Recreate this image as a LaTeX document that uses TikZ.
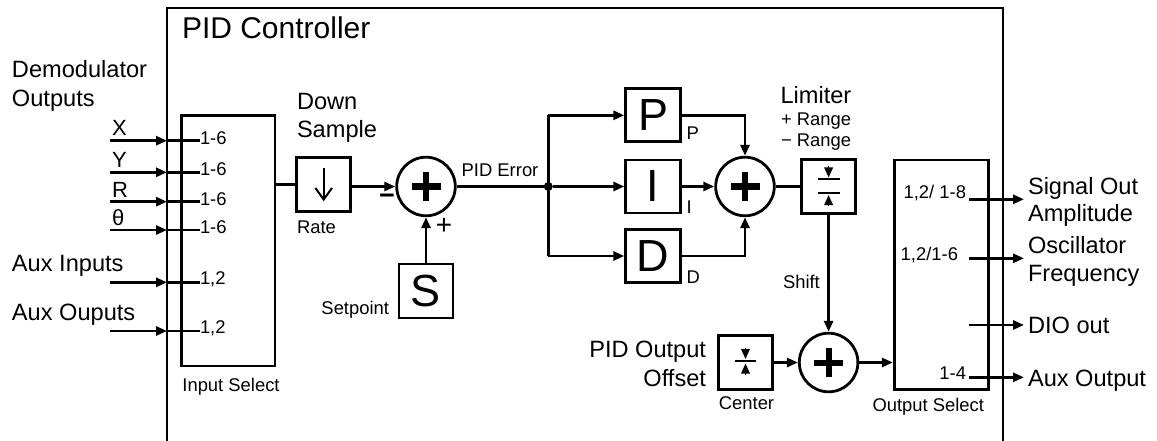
\documentclass[tikz,border=0pt]{standalone}
\usepackage{fontspec}
\setmainfont{Liberation Sans}
\usetikzlibrary{arrows.meta}
\newcommand\myfs[1]{\fontsize{#1}{#1}\selectfont}
\begin{document}
\begin{tikzpicture}[x=1pt,y=-1pt,
  ln/.style={line width=2.8pt},
  arr/.style={line width=2.8pt,-{Triangle[length=11pt,width=9pt]}},
  blk/.style={draw,line width=2.8pt,minimum width=54pt,minimum height=54pt,inner sep=0pt},
  glyph/.style={font=\myfs{45}},
  sumc/.style={draw,circle,line width=2.8pt,minimum size=58.6pt,inner sep=0pt,
    path picture={\draw[line width=6pt] (path picture bounding box.center) ++(-14.5,0) -- ++(29,0);
                  \draw[line width=6pt] (path picture bounding box.center) ++(0,-14.5) -- ++(0,29);}},
  txt/.style={inner sep=0pt,outer sep=0pt},
  big/.style={txt,font=\myfs{23.6}},
  sml/.style={txt,font=\myfs{18.4}},
  sym/.style={line width=2pt},
  symarr/.style={line width=1.6pt,-{Triangle[length=10pt,width=8.5pt]}}]
\useasboundingbox (0,0) rectangle (1157,441);
% frame
\draw[ln] (167,441) -- (167,8) -- (1003,8) -- (1003,441);
\node[txt,font=\myfs{30},anchor=base west] (title) at (182,39) {PID Controller};

% inputs
\node[big,anchor=base west] (demA) at (12,78) {Demodulator};
\node[big,anchor=base west] (demB) at (12,107) {Outputs};
\node[big,anchor=base west] (auxiL) at (12,271.7) {Aux Inputs};
\node[big,anchor=base west] (auxoL) at (12,320) {Aux Ouputs};
\node[draw,ln,minimum width=93.3pt,minimum height=250.3pt,inner sep=0pt] (insel) at (228.3,240.8) {};
\node[sml] (inselL) at (231,387) {Input Select};
\foreach \y/\n/\ch in {140.7/x/{1-6},172.3/y/{1-6},201.7/r/{1-6},230/t/{1-6},282.3/ai/{1,2},331/ao/{1,2}}{
  \coordinate (in\n) at (110,\y);
  \coordinate (fr\n) at (167,\y);
  \node[sml,anchor=west] (ch\n) at (200,\y-3) {\ch};
  \draw[arr] (in\n) -- (fr\n);
  \draw[ln] (fr\n) -- (ch\n.west |- fr\n);
}
\node[txt,font=\myfs{22},anchor=base west] (lx) at (112,136) {X};
\node[txt,font=\myfs{22},anchor=base west] (ly) at (112,167.6) {Y};
\node[txt,font=\myfs{22},anchor=base west] (lr) at (112,197) {R};
\node[txt,font=\myfs{22},anchor=base west] (lt) at (112,225.3) {θ};

% down sample
\node[big,anchor=base west] (dsA) at (297,110) {Down};
\node[big,anchor=base west] (dsB) at (297,138) {Sample};
\node[blk] (ds) at (323.7,184.5) {};
\draw[ln] (insel.east |- ds.west) -- (ds.west);
\draw[sym] (ds.center) ++(0,-16.5) -- ++(0,31.5);
\draw[sym,line join=miter] (ds.center) ++(-8.3,3.5) -- ++(8.3,11.5) -- ++(8.3,-11.5);
\node[sml,anchor=west] (rate) at (297,227) {Rate};

% first summing point
\node[sumc] (s1) at (426,186.5) {};
\draw[arr] (ds.east |- s1.west) -- (s1.west);
\node[txt,font=\myfs{27}\bfseries] (minus) at (387,199) {−};
\node[txt,font=\myfs{28}] (plus) at (444,226.7) {+};
\node[blk,glyph] (sp) at (426,291) {S};
\draw[arr] (sp.north) -- (s1.south);
\node[sml,anchor=east] (spL) at (389,310) {Setpoint};
\node[sml,anchor=west] (err) at (461.7,170.7) {PID Error};

% P I D branches
\node[circle,fill,inner sep=0pt,minimum size=9pt] (j) at (548.3,186.5) {};
\draw[ln] (s1.east) -- (j);
\coordinate (jt) at (548.3,115.3);
\coordinate (jb) at (548.3,256);
\draw[ln] (jt) -- (jb);
\node[blk,glyph,minimum width=55pt,minimum height=53pt] (P) at (653.2,115.3) {P};
\node[blk,glyph,minimum width=55pt,minimum height=53pt] (I) at (653.2,186.5) {I};
\node[blk,glyph,minimum width=55pt,minimum height=53pt] (D) at (653.2,256) {D};
\draw[arr] (jt) -- (P.west);
\draw[arr] (j) -- (I.west);
\draw[arr] (jb) -- (D.west);
\node[sml,anchor=west] (pL) at (686.5,133.3) {P};
\node[sml,anchor=west] (iL) at (686.5,206.7) {I};
\node[sml,anchor=west] (dL) at (686.5,277.3) {D};

% second summing point and limiter
\node[sumc] (s2) at (745,186.5) {};
\draw[arr] (P.east) -| (s2.north);
\draw[arr] (I.east) -- (s2.west);
\draw[arr] (D.east) -| (s2.south);
\node[blk] (lim) at (828.6,186.5) {};
\draw[ln] (s2.east) -- (lim.west);
\draw[sym] (lim.center) ++(-11,-7) -- ++(22,0);
\draw[sym] (lim.center) ++(-11,6.5) -- ++(22,0);
\draw[symarr] (lim.center) ++(0,-20) -- ++(0,11);
\draw[symarr] (lim.center) ++(0,19.5) -- ++(0,-11);
\node[big,anchor=base west] (limL) at (780.5,104) {Limiter};
\node[sml,anchor=base west] (rpL) at (781,126) {+ Range};
\node[sml,anchor=base west] (rmL) at (781,146.7) {− Range};

% offset
\node[sumc] (s3) at (828.6,362.5) {};
\draw[arr] (lim.south) -- (s3.north);
\node[sml,anchor=west] (shiftL) at (783,281.7) {Shift};
\node[blk] (cen) at (745.5,362.5) {};
\draw[sym] (cen.center) ++(-10.5,-1.5) -- ++(21,0);
\draw[symarr] (cen.center) ++(0,-15) -- ++(0,11.5);
\draw[symarr] (cen.center) ++(0,12.5) -- ++(0,-11.5);
\draw[arr] (cen.east) -- (s3.west);
\node[sml] (cenL) at (746.5,402.7) {Center};
\node[big,anchor=base east] (offA) at (706,357) {PID Output};
\node[big,anchor=base east] (offB) at (706,386) {Offset};

% output select
\node[draw,ln,minimum width=94pt,minimum height=229.3pt,inner sep=0pt] (osel) at (941.3,274.7) {};
\draw[arr] (s3.east) -- (s3.east -| osel.west);
\node[sml] (oselL) at (928.3,406.7) {Output Select};
\foreach \y/\n in {199.3/a,258.3/b,325/c,377.3/d}{
  \coordinate (os\n) at (969.3,\y);
  \coordinate (ot\n) at (1024,\y);
  \draw[arr] (os\n) -- (ot\n);
}
\node[sml,anchor=east] (chA) at (966,193.3) {1,2/ 1-8};
\node[sml,anchor=east] (chB) at (958,255) {1,2/1-6};
\node[sml,anchor=east] (chD) at (966,373.3) {1-4};
\node[big,anchor=base west] (outA1) at (1028,194) {Signal Out};
\node[big,anchor=base west] (outA2) at (1028,221.7) {Amplitude};
\node[big,anchor=base west] (outB1) at (1028,253) {Oscillator};
\node[big,anchor=base west] (outB2) at (1028,281.7) {Frequency};
\node[big,anchor=base west] (outC) at (1028,333.3) {DIO out};
\node[big,anchor=base west] (outD) at (1028,386.7) {Aux Output};
\end{tikzpicture}
\end{document}
